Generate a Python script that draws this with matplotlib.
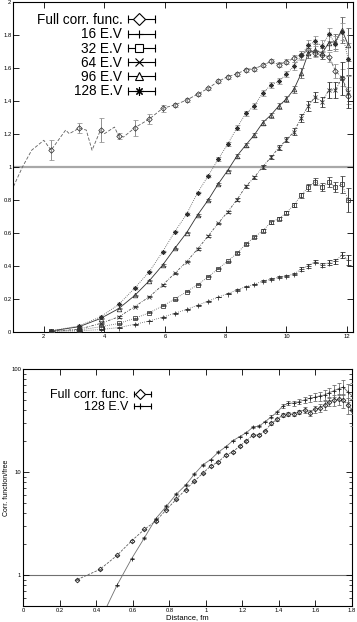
import numpy as np
import matplotlib
matplotlib.use('Agg')
import matplotlib.pyplot as plt
from matplotlib.lines import Line2D
from matplotlib.legend_handler import HandlerBase
from matplotlib.container import ErrorbarContainer
from matplotlib.ticker import FuncFormatter, NullFormatter, LogLocator, MultipleLocator

plt.rcParams['font.family'] = ['Liberation Sans', 'DejaVu Sans']

#%% data, top panel (lattice distance)
x_lat = [2.24, 3.16, 3.87, 4.47, 5.00, 5.48, 5.92, 6.32, 6.71, 7.07, 7.42, 7.75,
         8.06, 8.37, 8.66, 8.94, 9.22, 9.49, 9.75, 10.00, 10.25, 10.49, 10.72,
         10.95, 11.18, 11.40, 11.62, 11.83, 12.04]

full = [1.10, 1.233, 1.222, 1.186, 1.236, 1.289, 1.354, 1.374, 1.404, 1.439, 1.475,
        1.517, 1.545, 1.563, 1.588, 1.594, 1.614, 1.638, 1.619, 1.635, 1.657, 1.677,
        1.707, 1.687, 1.677, 1.667, 1.58, 1.54, 1.43]
full_err = [0.06, 0.03, 0.075, 0.02, 0.05, 0.03, 0.02, 0.012, 0.01, 0.01, 0.01, 0.012,
            0.012, 0.012, 0.012, 0.012, 0.012, 0.012, 0.015, 0.015, 0.02, 0.025,
            0.025, 0.02, 0.025, 0.03, 0.04, 0.05, 0.05]
# unmarked points on the full curve at short distance
full_extra_x = [1.0, 1.3, 1.6, 2.0, 2.72, 2.84, 3.40, 3.59, 4.00, 4.33, 4.63]
full_extra_y = [0.88, 1.0, 1.1, 1.16, 1.222, 1.20, 1.222, 1.10, 1.20, 1.24, 1.18]

ev16 = [0.002, 0.005, 0.013, 0.025, 0.045, 0.065, 0.088, 0.112, 0.135, 0.16, 0.185,
        0.21, 0.23, 0.253, 0.273, 0.287, 0.307, 0.317, 0.33, 0.337, 0.35, 0.38, 0.40,
        0.424, 0.404, 0.418, 0.428, 0.465, 0.435]
ev16_err = [0.002] * 13 + [0.004, 0.005, 0.005, 0.005, 0.006, 0.006, 0.007, 0.008,
                           0.01, 0.012, 0.01, 0.012, 0.015, 0.015, 0.02, 0.03]

ev32 = [0.003, 0.01, 0.03, 0.05, 0.081, 0.115, 0.156, 0.198, 0.242, 0.285, 0.332, 0.382,
        0.427, 0.475, 0.53, 0.572, 0.612, 0.663, 0.685, 0.721, 0.768, 0.828, 0.875,
        0.909, 0.875, 0.907, 0.875, 0.893, 0.798]
ev32_err = [0.003] * 13 + [0.006, 0.007, 0.007, 0.008, 0.008, 0.009, 0.01, 0.012,
                           0.015, 0.02, 0.02, 0.025, 0.03, 0.03, 0.05, 0.07]

ev64 = [0.003, 0.015, 0.05, 0.09, 0.152, 0.212, 0.283, 0.354, 0.424, 0.501, 0.58, 0.657,
        0.725, 0.80, 0.88, 0.935, 1.0, 1.057, 1.115, 1.162, 1.212, 1.297, 1.368, 1.424,
        1.394, 1.465, 1.465, 1.536, 1.455]
ev64_err = [0.004] * 13 + [0.008, 0.01, 0.01, 0.012, 0.012, 0.015, 0.015, 0.02,
                           0.025, 0.03, 0.03, 0.03, 0.05, 0.05, 0.1, 0.1]

ev96 = [0.005, 0.03, 0.08, 0.14, 0.22, 0.309, 0.404, 0.505, 0.60, 0.707, 0.798, 0.895,
        0.976, 1.065, 1.131, 1.192, 1.267, 1.313, 1.368, 1.41, 1.469, 1.566, 1.687,
        1.707, 1.687, 1.752, 1.758, 1.829, 1.738]
ev96_err = [0.004] * 13 + [0.01, 0.012, 0.012, 0.015, 0.015, 0.018, 0.02, 0.02,
                           0.03, 0.03, 0.035, 0.035, 0.045, 0.045, 0.08, 0.1]

ev128 = [0.005, 0.035, 0.09, 0.165, 0.265, 0.364, 0.485, 0.606, 0.713, 0.842, 0.944,
         1.045, 1.135, 1.236, 1.323, 1.368, 1.447, 1.494, 1.519, 1.561, 1.61, 1.674,
         1.735, 1.76, 1.73, 1.803, 1.746, 1.818, 1.65]
ev128_err = [0.004] * 11 + [0.012, 0.012, 0.015, 0.015, 0.018, 0.02, 0.02, 0.02, 0.02,
                            0.022, 0.025, 0.03, 0.03, 0.035, 0.04, 0.045, 0.05, 0.1]

#%% data, bottom panel (distance in fm)
x_fm = [0.296, 0.419, 0.513, 0.593, 0.663, 0.726, 0.784, 0.838, 0.889, 0.937, 0.983,
        1.026, 1.068, 1.109, 1.148, 1.185, 1.222, 1.257, 1.292, 1.325, 1.358, 1.390,
        1.421, 1.452, 1.482, 1.511, 1.540, 1.568, 1.596, 1.623, 1.650, 1.676, 1.702,
        1.728, 1.753, 1.778, 1.802]
full_fm = [0.91, 1.14, 1.56, 2.16, 2.79, 3.37, 4.35, 5.48, 6.8, 8.2, 9.8, 11.5, 12.6,
           14.7, 15.8, 18.0, 20.2, 23.0, 23.0, 25.3, 29.9, 32.7, 36.0, 36.8, 36.8, 38.7,
           40.3, 37.9, 40.9, 41.9, 45.1, 48.5, 50.4, 51.2, 50.0, 45.0, 40.0]
ev128_fm = [np.nan, 0.36, 0.80, 1.45, 2.31, 3.56, 4.69, 6.14, 7.51, 9.6, 11.8, 13.3,
            15.7, 17.7, 20.3, 22.2, 24.3, 27.4, 28.2, 31.0, 34.7, 38.3, 44.1, 46.9, 46.9,
            48.6, 50.4, 52.3, 53.5, 55.1, 56.4, 59.4, 62.0, 65.0, 67.0, 60.0, 55.0]
# relative errors
rel_err_fm = [0.015] * 20 + [0.03, 0.03, 0.04, 0.04, 0.05, 0.05, 0.06, 0.07, 0.08,
                             0.09, 0.1, 0.1, 0.12, 0.12, 0.15, 0.18, 0.3]


class KeyHandler(HandlerBase):
    """gnuplot style key sample: |--o--|"""
    def __init__(self, ms=6.0, frac=0.43):
        super().__init__()
        self.ms = ms
        self.frac = frac

    def create_artists(self, legend, orig, xd, yd, w, h, fontsize, trans):
        x0, x1 = -xd, -xd + w
        yc = -yd + h / 2
        mk = orig[0]
        bar = Line2D([x0, x1], [yc, yc], color='black', lw=0.8)
        caps = Line2D([x0, x1], [yc, yc], ls='none', marker='|', ms=self.ms,
                      mew=0.8, color='black')
        pt = Line2D([x0 + self.frac * (x1 - x0)], [yc], ls='none',
                    marker=mk.get_marker(), ms=self.ms, mfc='white',
                    mec='black', mew=0.8)
        for a in (bar, caps, pt):
            a.set_transform(trans)
        return [bar, caps, pt]


fmt_g = FuncFormatter(lambda v, p: '%g' % v)

fig = plt.figure(figsize=(3.57, 6.22), dpi=100)
ax1 = fig.add_axes([0.0378, 0.4667, 0.9512, 0.5306])
ax2 = fig.add_axes([0.0653, 0.0252, 0.9207, 0.3811])

ax1.axhline(1.0, color='#a8a8a8', lw=1.6, zorder=1)
ax2.axhline(1.0, color='#707070', lw=0.8, zorder=1)

# top panel series: name, y, err, marker, size, linestyle, linecolor, errcolor
series = [
    ('Full corr. func.', full, full_err, 'D', 2.8, (0, (4, 2)), '#606060', '#909090'),
    ('16 E.V', ev16, ev16_err, '+', 3.6, (0, (1, 1.5)), '#606060', '#202020'),
    ('32 E.V', ev32, ev32_err, 's', 3.2, (0, (1, 1.5)), '#606060', '#404040'),
    ('64 E.V', ev64, ev64_err, 'x', 3.2, (0, (3, 1.5, 1, 1.5)), '#505050', '#303030'),
    ('96 E.V', ev96, ev96_err, '^', 3.3, '-', '#303030', '#606060'),
    ('128 E.V', ev128, ev128_err, (8, 2, 0), 3.4, (0, (1, 1.5)), '#505050', '#909090'),
]

handles = []
for name, y, err, mk, ms, ls, lc, ec in series:
    if name.startswith('Full'):
        lx = np.array(x_lat + full_extra_x)
        ly = np.array(y + full_extra_y)
        order = np.argsort(lx)
        ax1.plot(lx[order], ly[order], ls=ls, color=lc, lw=0.6, zorder=2)
    else:
        ax1.plot(x_lat, y, ls=ls, color=lc, lw=0.6, zorder=2)
    eb = ax1.errorbar(x_lat, y, yerr=err, marker=mk, ls='none', ms=ms, mfc='none',
                      mec='#303030', mew=0.55, ecolor=ec, elinewidth=0.7,
                      capsize=1.8, capthick=0.7, zorder=3, label=name)
    handles.append(eb)

ax1.set_xlim(1, 12.2)
ax1.set_ylim(0, 2)
ax1.xaxis.set_major_locator(MultipleLocator(2))
ax1.yaxis.set_major_locator(MultipleLocator(0.2))
ax1.xaxis.set_major_formatter(fmt_g)
ax1.yaxis.set_major_formatter(fmt_g)

ax1.legend(handles=handles, loc='upper right',
           bbox_to_anchor=(155 / 357, 1 - 13 / 622),
           bbox_transform=fig.transFigure, frameon=False, markerfirst=False,
           fontsize=9.8, handlelength=2.0, handletextpad=0.4,
           labelspacing=0.02, borderpad=0, borderaxespad=0,
           handler_map={ErrorbarContainer: KeyHandler()})

# bottom panel
full_fm_arr = np.array(full_fm)
ev128_fm_arr = np.array(ev128_fm)
rel = np.array(rel_err_fm)
ax2.plot(x_fm, full_fm, ls=(0, (3, 1.5)), color='#606060', lw=0.6, zorder=2)
ax2.plot(x_fm, ev128_fm, ls='-', color='#707070', lw=0.6, zorder=2)
eb_full = ax2.errorbar(x_fm, full_fm, yerr=full_fm_arr * rel, marker='D', ls='none',
                       ms=2.4, mfc='none', mec='#202020', mew=0.6, ecolor='#707070',
                       elinewidth=0.6, capsize=1.5, capthick=0.6, zorder=3,
                       label='Full corr. func.')
eb_128 = ax2.errorbar(x_fm, ev128_fm, yerr=ev128_fm_arr * rel * 1.1, marker='+',
                      ls='none', ms=3.0, mec='#202020', mew=0.6, ecolor='#707070',
                      elinewidth=0.6, capsize=1.5, capthick=0.6, zorder=3,
                      label='128 E.V')

ax2.set_yscale('log')
ax2.set_xlim(0, 1.8)
ax2.set_ylim(0.5, 100)
ax2.xaxis.set_major_locator(MultipleLocator(0.2))
ax2.xaxis.set_major_formatter(fmt_g)
ax2.yaxis.set_major_locator(LogLocator(base=10))
ax2.yaxis.set_major_formatter(fmt_g)
ax2.yaxis.set_minor_locator(LogLocator(base=10, subs=np.arange(2, 10)))
ax2.yaxis.set_minor_formatter(NullFormatter())
ax2.set_xlabel('Distance, fm', fontsize=5.5, labelpad=0.5)
ax2.set_ylabel('Corr. function/free', fontsize=5, labelpad=1)

ax2.legend(handles=[eb_full, eb_128], loc='upper right',
           bbox_to_anchor=(151 / 357, 1 - 389 / 622),
           bbox_transform=fig.transFigure, frameon=False, markerfirst=False,
           fontsize=9, handlelength=1.35, handletextpad=0.45,
           labelspacing=0.0, borderpad=0, borderaxespad=0,
           handler_map={ErrorbarContainer: KeyHandler(ms=5.0, frac=0.35)})

for ax in (ax1, ax2):
    ax.tick_params(which='major', direction='in', top=True, right=True,
                   length=4, width=0.6, labelsize=4.2, pad=1.5)
    ax.tick_params(which='minor', direction='in', top=True, right=True,
                   length=2.2, width=0.5)
    for s in ax.spines.values():
        s.set_linewidth(0.8)

fig.savefig('out.png', dpi=100)
